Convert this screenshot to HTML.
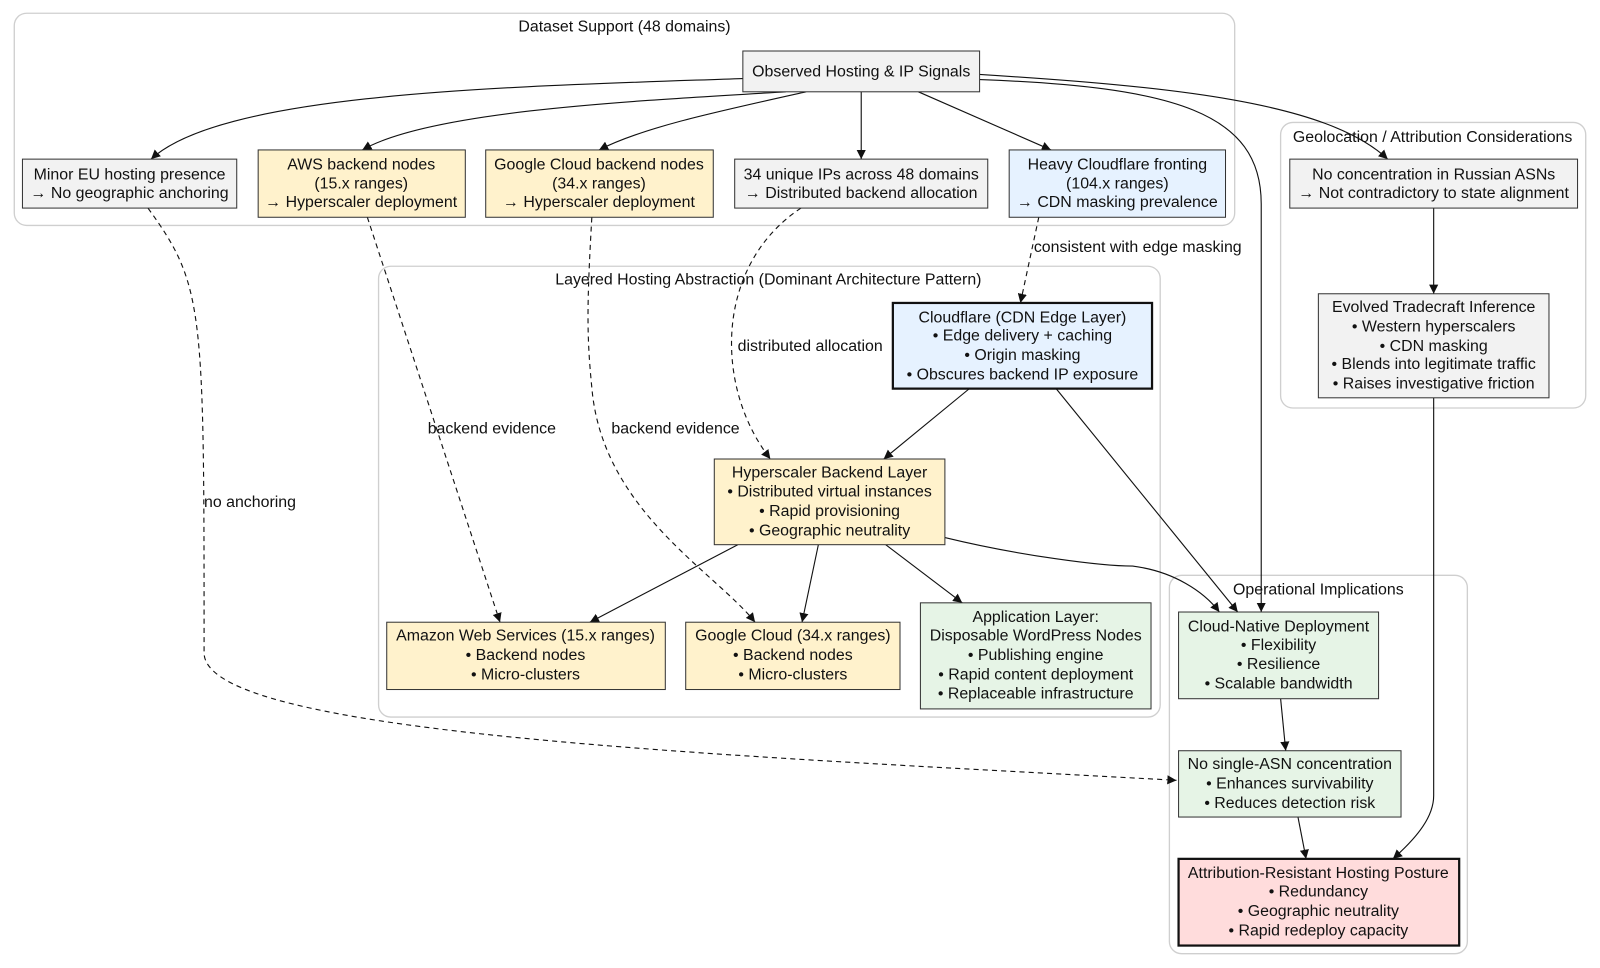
<!DOCTYPE html>
<html><head><meta charset="utf-8"><style>
html,body{margin:0;padding:0;background:#fff;width:1600px;height:968px;overflow:hidden}
svg{display:block}
text{font-family:"Liberation Sans",Arial,sans-serif;font-size:15.6px;fill:#111;text-anchor:middle}
.c{fill:none;stroke:#cfcfcf;stroke-width:1.3}
.n{stroke:#333;stroke-width:1}
.b{stroke:#111;stroke-width:2.2}
.e{fill:none;stroke:#111;stroke-width:1.1}
.d{fill:none;stroke:#111;stroke-width:1.1;stroke-dasharray:5,4}
</style></head><body>
<svg width="1600" height="968" viewBox="0 0 1568 949" preserveAspectRatio="none" xmlns="http://www.w3.org/2000/svg">
<defs><marker id="a" viewBox="0 0 10 10" refX="10" refY="5" markerWidth="9" markerHeight="9" markerUnits="userSpaceOnUse" orient="auto"><path d="M0,0L10,5L0,10z" fill="#111"/></marker></defs>

<rect class="c" x="14" y="13" width="1196" height="208" rx="12"/>
<text x="612" y="31">Dataset Support (48 domains)</text>
<rect class="c" x="1255" y="120" width="299" height="280" rx="12"/>
<text x="1404" y="139">Geolocation / Attribution Considerations</text>
<rect class="c" x="371" y="261" width="766" height="442" rx="12"/>
<text x="753" y="279">Layered Hosting Abstraction (Dominant Architecture Pattern)</text>
<rect class="c" x="1146" y="564" width="292" height="371" rx="12"/>
<text x="1292" y="583">Operational Implications</text>

<!-- edges -->
<path class="e" marker-end="url(#a)" d="M728,77 C500,85 220,90 148,156"/>
<path class="e" marker-end="url(#a)" d="M770,90 C600,100 420,110 355,147"/>
<path class="e" marker-end="url(#a)" d="M790,90 C700,110 630,125 587,147"/>
<path class="e" marker-end="url(#a)" d="M844,90 L844,156"/>
<path class="e" marker-end="url(#a)" d="M900,90 L1030,147"/>
<path class="e" marker-end="url(#a)" d="M960,73 C1150,85 1300,100 1360,156"/>
<path class="e" marker-end="url(#a)" d="M960,78 C1150,85 1236,110 1236,200 L1236,600"/>
<path class="d" marker-end="url(#a)" d="M145,204 C200,280 200,300 200,640 C200,720 700,740 1153,765"/>
<path class="d" marker-end="url(#a)" d="M360,213 L490,610"/>
<path class="d" marker-end="url(#a)" d="M580,213 C575,300 575,330 580,380 C590,500 700,560 740,610"/>
<path class="d" marker-end="url(#a)" d="M785,204 C700,260 700,380 755,450"/>
<path class="d" marker-end="url(#a)" d="M1018,213 L1000,297"/>
<path class="e" marker-end="url(#a)" d="M950,381 L866,450"/>
<path class="e" marker-end="url(#a)" d="M1035,381 L1213,600"/>
<path class="e" marker-end="url(#a)" d="M723,534 L578,610"/>
<path class="e" marker-end="url(#a)" d="M802,534 L786,610"/>
<path class="e" marker-end="url(#a)" d="M868,534 L943,591"/>
<path class="e" marker-end="url(#a)" d="M926,527 C1000,545 1080,555 1110,555 C1150,560 1180,580 1195,600"/>
<path class="e" marker-end="url(#a)" d="M1405,204 L1405,288"/>
<path class="e" marker-end="url(#a)" d="M1405,390 L1405,780 C1405,800 1390,820 1365,842"/>
<path class="e" marker-end="url(#a)" d="M1255,685 L1260,736"/>
<path class="e" marker-end="url(#a)" d="M1272,801 L1280,842"/>

<text x="245" y="497">no anchoring</text>
<text x="482" y="425">backend evidence</text>
<text x="662" y="425">backend evidence</text>
<text x="794" y="344">distributed allocation</text>
<text x="1115" y="247">consistent with edge masking</text>

<!-- nodes -->
<rect class="n" x="728" y="50" width="232" height="40" fill="#f2f2f2"/>
<text x="844" y="75">Observed Hosting &amp; IP Signals</text>

<rect class="n" x="22" y="156" width="210" height="48" fill="#f2f2f2"/>
<text x="127" y="176">Minor EU hosting presence</text><text x="127" y="194">→ No geographic anchoring</text>

<rect class="n" x="253" y="147" width="203" height="66" fill="#fff2cc"/>
<text x="354" y="166">AWS backend nodes</text><text x="354" y="185">(15.x ranges)</text><text x="354" y="203">→ Hyperscaler deployment</text>

<rect class="n" x="476" y="147" width="223" height="66" fill="#fff2cc"/>
<text x="587" y="166">Google Cloud backend nodes</text><text x="587" y="185">(34.x ranges)</text><text x="587" y="203">→ Hyperscaler deployment</text>

<rect class="n" x="720" y="156" width="248" height="48" fill="#f2f2f2"/>
<text x="844" y="176">34 unique IPs across 48 domains</text><text x="844" y="194">→ Distributed backend allocation</text>

<rect class="n" x="989" y="147" width="212" height="66" fill="#e6f2ff"/>
<text x="1095" y="166">Heavy Cloudflare fronting</text><text x="1095" y="185">(104.x ranges)</text><text x="1095" y="203">→ CDN masking prevalence</text>

<rect class="n" x="1264" y="156" width="282" height="48" fill="#f2f2f2"/>
<text x="1405" y="176">No concentration in Russian ASNs</text><text x="1405" y="194">→ Not contradictory to state alignment</text>

<rect class="n" x="1292" y="288" width="226" height="102" fill="#f2f2f2"/>
<text x="1405" y="306">Evolved Tradecraft Inference</text><text x="1405" y="325">• Western hyperscalers</text><text x="1405" y="344">• CDN masking</text><text x="1405" y="362">• Blends into legitimate traffic</text><text x="1405" y="381">• Raises investigative friction</text>

<rect class="b" x="875" y="297" width="254" height="84" fill="#e6f2ff"/>
<text x="1002" y="316">Cloudflare (CDN Edge Layer)</text><text x="1002" y="334">• Edge delivery + caching</text><text x="1002" y="353">• Origin masking</text><text x="1002" y="372">• Obscures backend IP exposure</text>

<rect class="n" x="700" y="450" width="226" height="84" fill="#fff2cc"/>
<text x="813" y="468">Hyperscaler Backend Layer</text><text x="813" y="487">• Distributed virtual instances</text><text x="813" y="506">• Rapid provisioning</text><text x="813" y="525">• Geographic neutrality</text>

<rect class="n" x="379" y="610" width="273" height="66" fill="#fff2cc"/>
<text x="515" y="628">Amazon Web Services (15.x ranges)</text><text x="515" y="647">• Backend nodes</text><text x="515" y="666">• Micro-clusters</text>

<rect class="n" x="672" y="610" width="210" height="66" fill="#fff2cc"/>
<text x="777" y="628">Google Cloud (34.x ranges)</text><text x="777" y="647">• Backend nodes</text><text x="777" y="666">• Micro-clusters</text>

<rect class="n" x="902" y="591" width="226" height="104" fill="#e6f4e6"/>
<text x="1015" y="610">Application Layer:</text><text x="1015" y="628">Disposable WordPress Nodes</text><text x="1015" y="647">• Publishing engine</text><text x="1015" y="666">• Rapid content deployment</text><text x="1015" y="685">• Replaceable infrastructure</text>

<rect class="n" x="1155" y="600" width="196" height="85" fill="#e6f4e6"/>
<text x="1253" y="619">Cloud-Native Deployment</text><text x="1253" y="637">• Flexibility</text><text x="1253" y="656">• Resilience</text><text x="1253" y="675">• Scalable bandwidth</text>

<rect class="n" x="1155" y="736" width="218" height="65" fill="#e6f4e6"/>
<text x="1264" y="754">No single-ASN concentration</text><text x="1264" y="773">• Enhances survivability</text><text x="1264" y="792">• Reduces detection risk</text>

<rect class="b" x="1155" y="842" width="275" height="85" fill="#ffdcdc"/>
<text x="1292" y="861">Attribution-Resistant Hosting Posture</text><text x="1292" y="879">• Redundancy</text><text x="1292" y="898">• Geographic neutrality</text><text x="1292" y="917">• Rapid redeploy capacity</text>
</svg>
</body></html>
